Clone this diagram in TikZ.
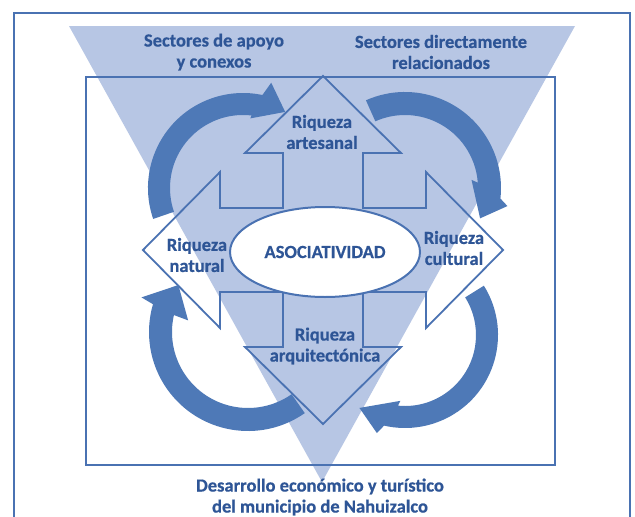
\documentclass[tikz,border=0pt]{standalone}
\usepackage{fontspec}
\setmainfont{Carlito}[BoldFeatures={FakeBold=0.6}]
\usetikzlibrary{shapes.geometric}
\definecolor{tri}{HTML}{B7C6E4}
\definecolor{arcb}{HTML}{4E79B7}
\definecolor{lineb}{HTML}{4A72B2}
\definecolor{textb}{HTML}{2E5596}
\begin{document}
\begin{tikzpicture}[x=1pt,y=-1pt,
  lbl/.style={font=\fontsize{18.5}{21}\selectfont\bfseries, text=textb, align=center, inner sep=0pt},
  frameline/.style={draw=lineb, line width=2.5pt},
  boxline/.style={draw=lineb, line width=2pt},
  arcfill/.style={fill=arcb}]
\useasboundingbox (0,0) rectangle (635,517);
\fill[white] (0,0) rectangle (635,517);
% outer frame (open at the bottom)
\draw[frameline] (14,530) -- (14,13) -- (630,13) -- (630,530);
% inverted triangle
\fill[tri] (69,26) -- (575,26) -- (322,482) -- cycle;
% inner rectangle
\draw[boxline] (86,77) rectangle (555,465);
% quad arrow outline
\draw[boxline, line width=1.8pt, line join=miter]
  (323,76) -- (401,153) -- (363,153) -- (363,208) -- (426,208) -- (426,172)
  -- (503,250) -- (426,328) -- (426,292) -- (363,292) -- (363,347) -- (401,347)
  -- (323,424) -- (245,347) -- (283,347) -- (283,292) -- (220,292) -- (220,328)
  -- (143,250) -- (220,172) -- (220,208) -- (283,208) -- (283,153) -- (245,153) -- cycle;
% central ellipse
\node[ellipse, boxline, fill=white, minimum width=190pt, minimum height=90pt, inner sep=0pt] (asoc) at (325,252) {};
\node[lbl] (asoct) at (325,252) {ASOCIATIVIDAD};
% circular arrows
\begin{scope}[shift={(243,188)}]
\fill[arcfill] (161:95) arc[start angle=161,end angle=281.8,radius=95] -- (285:109) -- (299:87)
  -- (276:70) -- (276.7:73) arc[start angle=276.7,end angle=161,radius=73] -- cycle;
\end{scope}
\begin{scope}[shift={(405,188)}]
\fill[arcfill] (246:96) arc[start angle=246,end angle=366.3,radius=96] -- (370:104) -- (382:81)
  -- (353:67) -- (355.8:73) arc[start angle=355.8,end angle=246,radius=73] -- cycle;
\end{scope}
\begin{scope}[shift={(405,335)}]
\fill[arcfill] (-32:93) arc[start angle=-32,end angle=103,radius=93] -- (106:102) -- (122:86)
  -- (94:66) -- (95.7:71) arc[start angle=95.7,end angle=-32,radius=71] -- cycle;
\end{scope}
\begin{scope}[shift={(248,332)}]
\fill[arcfill] (55:99) arc[start angle=55,end angle=196.3,radius=99] -- (198:112) -- (214:84)
  -- (191:61) -- (192.9:76) arc[start angle=192.9,end angle=55,radius=76] -- cycle;
\end{scope}
% labels
\node[lbl] (sa) at (214,52) {Sectores de apoyo\\y conexos};
\node[lbl] (sd) at (441,52) {Sectores directamente\\relacionados};
\node[lbl] (ra) at (322,132) {Riqueza\\artesanal};
\node[lbl] (rn) at (197,255) {Riqueza\\natural};
\node[lbl] (rc) at (454,248) {Riqueza\\cultural};
\node[lbl] (rq) at (325,346) {Riqueza\\arquitectónica};
\node[lbl] (de) at (320,497) {Desarrollo económico y turístico\\del municipio de Nahuizalco};
\end{tikzpicture}
\end{document}
